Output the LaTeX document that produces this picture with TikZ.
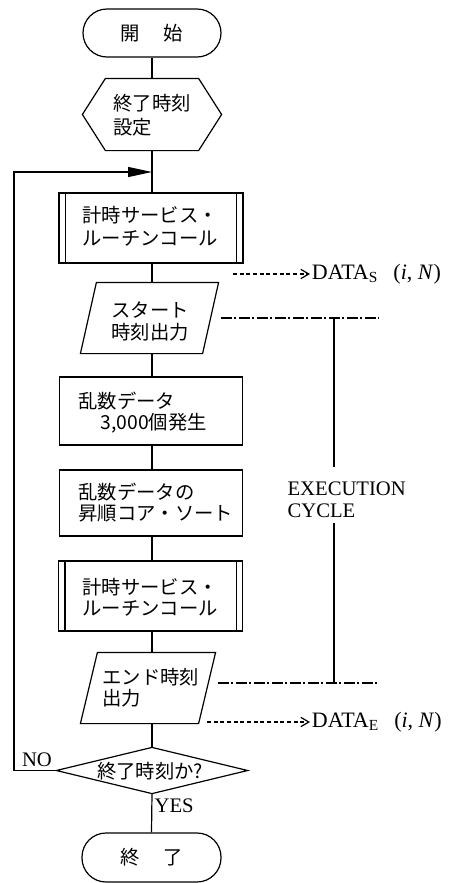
\documentclass[tikz,border=0pt]{standalone}
\usepackage{fontspec}
\setmainfont{Liberation Serif}
\newfontfamily\jp{Noto Sans CJK JP}
\usetikzlibrary{arrows.meta,calc}
\begin{document}
\begin{tikzpicture}[x=0.75pt,y=-0.75pt,line width=0.9pt,
  shapebox/.style={rectangle,inner sep=0pt},
  drawnbox/.style={shapebox,draw},
  term/.style={drawnbox,rounded corners=18pt,minimum width=103.5pt,minimum height=36pt,
    font={\jp\fontsize{14.5}{17}\selectfont}},
  jtext/.style={inner sep=0pt,align=left,font={\jp\fontsize{14.5}{16}\selectfont}},
  ltext/.style={inner sep=0pt,font={\fontsize{15.5}{17}\selectfont}},
  dtext/.style={inner sep=1pt,anchor=west,font={\fontsize{16.5}{18}\selectfont}},
  flow/.style={draw},
  dataarrow/.style={dash pattern=on 3pt off 2pt,-{Straight Barb[length=6pt,width=7pt,line width=0.9pt]}},
  dashdot/.style={line width=0.8pt,dash pattern=on 8pt off 2pt on 1.5pt off 2pt},
  looparrow/.style={-{Triangle[length=18pt,width=7.5pt]}}]
\useasboundingbox (0,0) rectangle (453,883);

% main nodes
\node[term] (start) at (152,33) {開\hspace{1.23em}始};
\node[shapebox,minimum width=103.5pt,minimum height=53.25pt] (hex) at (152,114.5) {};
\draw (hex.west) -- ($(hex.north west)+(23,0)$) -- ($(hex.north east)+(-23,0)$)
  -- (hex.east) -- ($(hex.south east)+(-23,0)$) -- ($(hex.south west)+(23,0)$) -- cycle;
\node[drawnbox,minimum width=138pt,minimum height=52.5pt] (box1) at (151,228) {};
\draw ($(box1.north west)+(7,0)$) -- ($(box1.south west)+(7,0)$);
\draw ($(box1.north east)+(-7,0)$) -- ($(box1.south east)+(-7,0)$);
\node[shapebox,minimum width=102.75pt,minimum height=52.5pt] (p1) at (149.5,318) {};
\draw ($(p1.north west)+(16,0)$) -- (p1.north east) -- ($(p1.south east)+(-16,0)$)
  -- (p1.south west) -- cycle;
\node[drawnbox,minimum width=137.25pt,minimum height=51pt] (box2) at (151,411) {};
\node[drawnbox,minimum width=137.25pt,minimum height=49.5pt] (box3) at (151,503) {};
\node[drawnbox,minimum width=138pt,minimum height=52.5pt] (box4) at (150.5,596) {};
\draw ($(box4.north west)+(7,0)$) -- ($(box4.south west)+(7,0)$);
\draw ($(box4.north east)+(-7,0)$) -- ($(box4.south east)+(-7,0)$);
\node[shapebox,minimum width=100.5pt,minimum height=52.5pt] (p2) at (148,688) {};
\draw ($(p2.north west)+(17,0)$) -- (p2.north east) -- ($(p2.south east)+(-17,0)$)
  -- (p2.south west) -- cycle;
\node[shapebox,minimum width=142.5pt,minimum height=33.75pt] (dia) at (152,770.5) {};
\draw (dia.west) -- (dia.north) -- (dia.east) -- (dia.south) -- cycle;
\node[term,minimum width=104.25pt,minimum height=36.75pt] (end) at (151.5,857.5) {終\hspace{1.23em}了};

% texts
\node[jtext,anchor=west,font={\jp\fontsize{14.5}{18}\selectfont}] (thex) at (113,115) {終了時刻\\設定};
\node[jtext,anchor=west,font={\jp\fontsize{14.5}{17.25}\selectfont}] (tbox1) at (82,226.5) {計時サービス・\\ルーチンコール};
\node[jtext,anchor=west] (tp1) at (111,321.5) {スタート\\時刻出力};
\node[jtext,anchor=west] (tbox2) at (78,412.5) {乱数データ\\\hspace*{16.5pt}3,000個発生};
\node[jtext,anchor=west] (tbox3) at (78,502.5) {乱数データの\\昇順コア・ソート};
\node[jtext,anchor=west] (tbox4) at (82,597) {計時サービス・\\ルーチンコール};
\node[jtext,anchor=west] (tp2) at (102,688) {エンド時刻\\出力};
\node[jtext] (tdia) at (150,771) {終了時刻か?};
\node[ltext] (no) at (37,760) {NO};
\node[ltext,anchor=west] (yes) at (154,806) {YES};

% main flow
\draw[flow] (start.south) -- (hex.north);
\coordinate (join) at (152,172);
\draw[flow] (hex.south) -- (box1.north -| hex.south);
\draw[flow] (box1.south -| hex.south) -- (p1.north -| hex.south);
\draw[flow] (p1.south -| hex.south) -- (box2.north -| hex.south);
\draw[flow] (box2.south -| hex.south) -- (box3.north -| hex.south);
\draw[flow] (box3.south -| hex.south) -- (box4.north -| hex.south);
\draw[flow] (box4.south -| hex.south) -- (p2.north -| hex.south);
\draw[flow] (p2.south -| hex.south) -- (dia.north);
\draw[flow] (dia.south) -- (end.north);

% loop back
\coordinate (loopc) at (14,172);
\draw[flow,looparrow] (dia.west) -| (loopc) -- (join);

% data outputs
\coordinate (ds0) at (233,274);
\node[dtext] (dats) at (310,274) {DATA\textsubscript{S}\hspace{0.7em}(\textit{i}, \textit{N})};
\draw[dataarrow] (ds0) -- (dats.west);
\coordinate (de0) at (207,722);
\node[dtext] (date) at (310,722) {DATA\textsubscript{E}\hspace{0.7em}(\textit{i}, \textit{N})};
\draw[dataarrow] (de0) -- (date.west);

% execution cycle bracket
\coordinate (dd1a) at (221,318);
\coordinate (dd1b) at (379,318);
\coordinate (dd2a) at (218,683);
\coordinate (dd2b) at (379,683);
\draw[dashdot] (dd1a) -- (dd1b);
\draw[dashdot] (dd2a) -- (dd2b);
\node[inner sep=0pt,align=left,anchor=west,font={\fontsize{15.5}{16.5}\selectfont}] (exec) at (287,500) {EXECUTION\\CYCLE};
\coordinate (vt) at (334,318);
\coordinate (vm1) at (334,467);
\coordinate (vm2) at (334,523);
\coordinate (vb) at (334,683);
\draw (vt) -- (vm1);
\draw (vm2) -- (vb);
\end{tikzpicture}
\end{document}
